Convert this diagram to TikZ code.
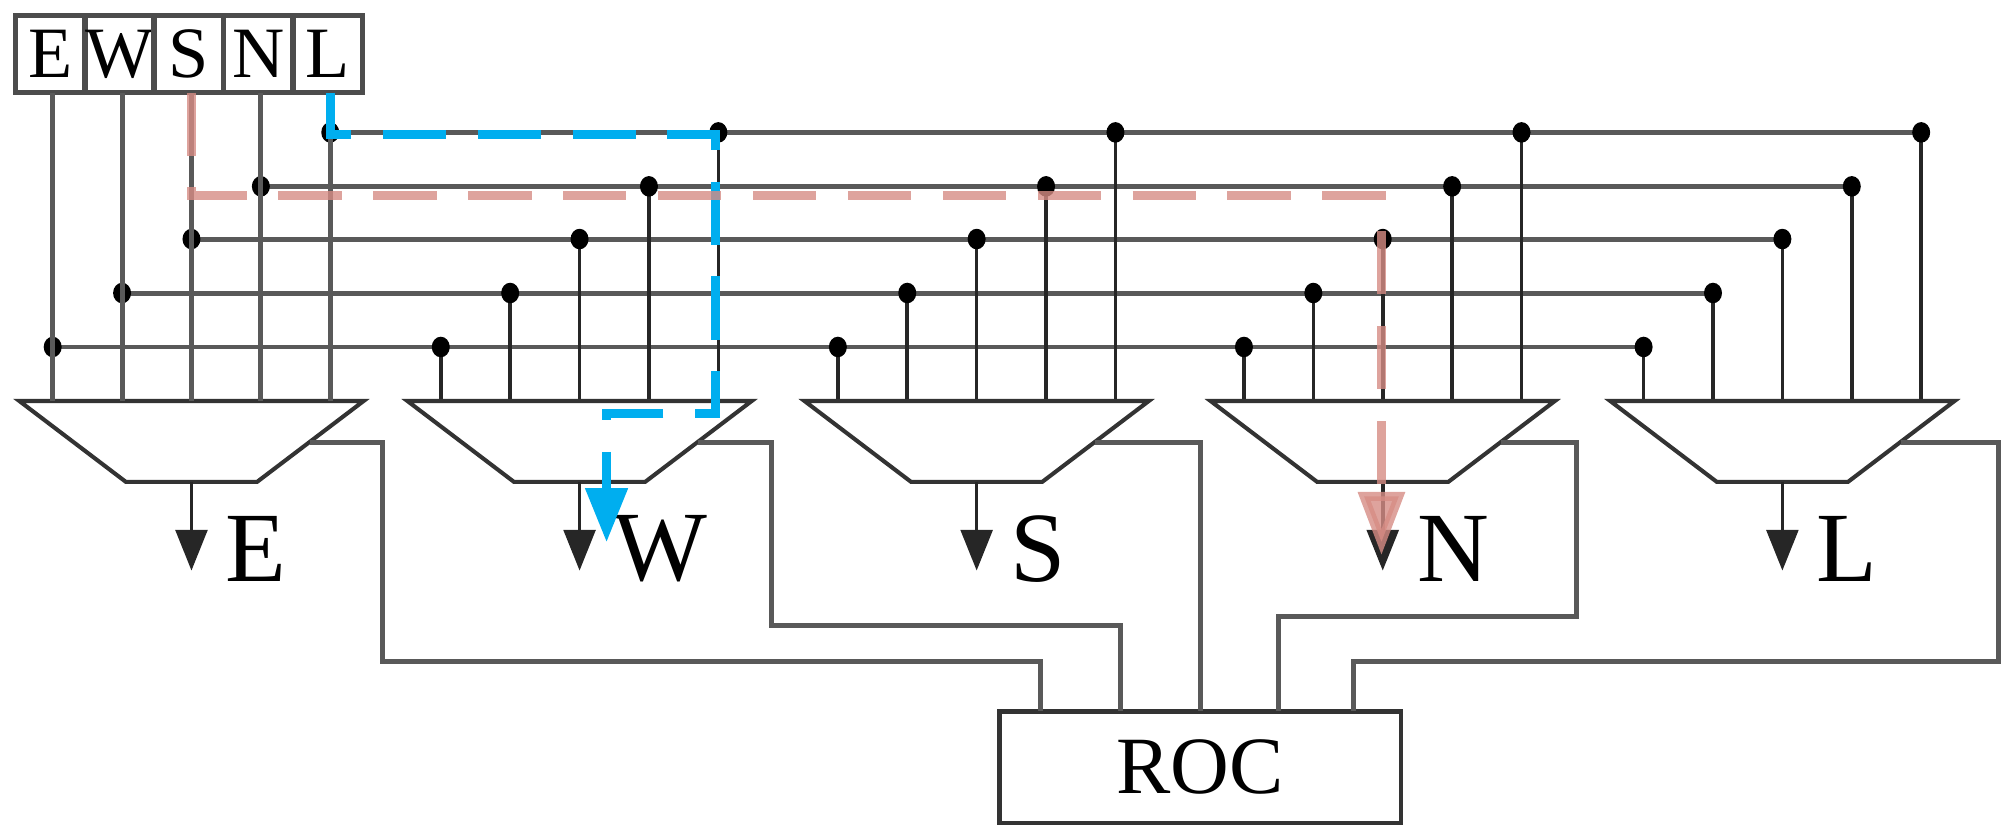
\documentclass[tikz,border=0pt]{standalone}
\usepackage{fontspec}
\setmainfont{Liberation Serif}
\usetikzlibrary{arrows.meta}
\begin{document}
\begin{tikzpicture}[x=0.01cm,y=-0.01cm,
  wire/.style={draw=black!65,line width=1.1pt},
  tap/.style={draw=black!85,line width=0.8pt},
  dot/.style={fill=black,draw=none},
  mux/.style={draw=black!80,line width=0.9pt,fill=white},
  lbl/.style={font=\fontsize{22}{22}\selectfont,inner sep=0pt},
  cell/.style={draw=black!70,line width=1.2pt,minimum width=0.54cm,minimum height=0.6cm,inner sep=0pt,font=\fontsize{16}{16}\selectfont}]
\useasboundingbox (0,0) rectangle (1568,650);
% top box
\foreach \t [count=\i from 0] in {E,W,S,N,L}{
  \node[cell] (c\t) at (39+54*\i,42) {\t};
}
% buses
\def\busy{{270,228,186,145,103}}
\foreach \i in {0,...,4}{
  \pgfmathsetmacro\y{\busy[\i]}
  \pgfmathsetmacro\xs{41+54*\i}
  \pgfmathsetmacro\xe{1387-108+54*\i}
  \draw[wire] (\xs,\y) -- (\xe,\y);
}
% muxes
\foreach \c/\n in {149/E,451/W,760/S,1076/N,1387/L}{
  \foreach \i in {0,...,4}{
    \pgfmathsetmacro\y{\busy[\i]}
    \pgfmathsetmacro\x{\c-108+54*\i}
    \draw[tap] (\x,\y) -- (\x,312);
    \fill[dot] (\x,\y) ellipse (7 and 8);
  }
  \draw[mux] (\c-134,312) -- (\c+134,312) -- (\c+51,375) -- (\c-51,375) -- cycle;
  \coordinate (o\n) at (\c,375);
  \coordinate (a\n) at (\c,444);
  \coordinate (s\n) at (\c+92,344);
  \draw[tap,-{Triangle[length=9pt,width=7pt]}] (o\n) -- (a\n);
  \node[lbl,anchor=west] (t\n) at (\c+26,427) {\n};
}
% top-box verticals
\foreach \t [count=\i from 0] in {E,W,S,N,L}{
  \pgfmathsetmacro\x{41+54*\i}
  \draw[wire] (\x,72) -- (\x,312);
}
% ROC
\node[draw=black!80,line width=1pt,minimum width=3.12cm,minimum height=0.87cm,font=\fontsize{18}{18}\selectfont] (roc) at (934,597) {ROC};
\draw[wire] (sE) -- (298,344) -- (298,515) -- (810,515) -- (810,553);
\draw[wire] (sW) -- (600,344) -- (600,487) -- (872,487) -- (872,553);
\draw[wire] (sS) -- (934,344) -- (934,553);
\draw[wire] (sN) -- (1227,344) -- (1227,480) -- (995,480) -- (995,553);
\draw[wire] (sL) -- (1555,344) -- (1555,515) -- (1053,515) -- (1053,553);
% highlighted paths
\draw[draw={rgb,255:red,0;green,174;blue,239},line width=2pt,dash pattern=on 14pt off 7pt,-{Triangle[length=12pt,width=9pt]}]
  (257,72) -- (257,105) -- (557,105) -- (557,322) -- (472,322) -- (472,422);
\draw[draw={rgb,255:red,214;green,140;blue,132},opacity=0.8,line width=2pt,dash pattern=on 14pt off 7pt,-{Triangle[length=14pt,width=10pt]}]
  (149,72) -- (149,152) -- (1075,152) -- (1075,432);
\end{tikzpicture}
\end{document}
